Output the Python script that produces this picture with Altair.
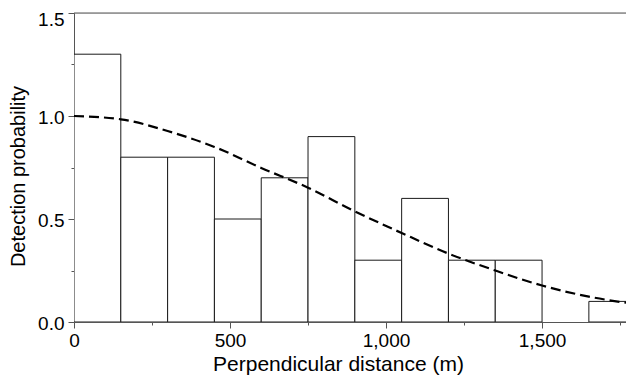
import altair as alt
import pandas as pd

# Histogram bins (perpendicular distance, m) and scaled detection frequencies
bin_start = [0, 150, 300, 450, 600, 750, 900, 1050, 1200, 1350, 1500, 1650]
bin_end = [150, 300, 450, 600, 750, 900, 1050, 1200, 1350, 1500, 1650, 1800]
bar_value = [1.3, 0.8, 0.8, 0.5, 0.7, 0.9, 0.3, 0.6, 0.3, 0.3, 0.0, 0.1]

# Fitted detection function
curve_x = [0, 150, 300, 450, 600, 750, 900, 1050, 1200, 1350, 1500, 1650, 1800]
curve_y = [1.0, 0.984, 0.927, 0.85, 0.748, 0.652, 0.537, 0.432, 0.332, 0.25, 0.177, 0.123, 0.087]

x_ticks = [0, 250, 500, 750, 1000, 1250, 1500, 1750]
y_ticks = [0.0, 0.25, 0.5, 0.75, 1.0, 1.25, 1.5]

bars_df = pd.DataFrame({"start": bin_start, "end": bin_end, "value": bar_value})
curve_df = pd.DataFrame({"x": curve_x, "y": curve_y})

FONT = "Arial"
AXIS_COLOR = "#555555"

# visible part of the distance axis (the reference is cut at its right edge)
x_scale = alt.Scale(domain=[0, 1769], nice=False, zero=False)
y_scale = alt.Scale(domain=[0, 1.5], nice=False)

Y_MAJOR = "abs(datum.value * 2 - round(datum.value * 2)) < 0.001"

x_axis = alt.Axis(
    title="Perpendicular distance (m)",
    values=x_ticks,
    labelExpr="datum.value % 500 === 0 ? format(datum.value, ',') : ''",
    tickSize={"condition": {"test": "datum.value % 500 === 0", "value": 6}, "value": 3},
    grid=False,
    domainColor=AXIS_COLOR,
    tickColor=AXIS_COLOR,
    labelFont=FONT,
    labelFontSize=19,
    labelColor="#000000",
    labelPadding=3,
    titleFont=FONT,
    titleFontSize=21,
    titleFontWeight="normal",
    titleColor="#000000",
    titlePadding=3,
    titleX=264,
    labelFlush=False,
)
y_axis = alt.Axis(
    title="Detection probability",
    values=y_ticks,
    labelExpr=Y_MAJOR + " ? format(datum.value, '.1f') : ''",
    tickSize={"condition": {"test": Y_MAJOR, "value": 6}, "value": 3},
    labelOffset={"condition": {"test": "datum.value > 1.4", "value": 6}, "value": 1},
    grid=False,
    domainColor=AXIS_COLOR,
    tickColor=AXIS_COLOR,
    labelFont=FONT,
    labelFontSize=19,
    labelColor="#000000",
    labelPadding=4,
    titleFont=FONT,
    titleFontSize=20,
    titleFontWeight="normal",
    titleColor="#000000",
    titlePadding=9,
    titleY=163,
    labelFlush=False,
)

bars = (
    alt.Chart(bars_df)
    .transform_filter("datum.value > 0")
    .mark_rect(fill="white", stroke="#1a1a1a", strokeWidth=1, clip=True)
    .encode(
        x=alt.X("start:Q", scale=x_scale, axis=x_axis),
        x2="end:Q",
        y=alt.Y("value:Q", scale=y_scale, axis=y_axis),
        y2=alt.datum(0),
    )
)

curve = (
    alt.Chart(curve_df)
    .mark_line(color="black", strokeWidth=2.2, strokeDash=[10, 5], interpolate="monotone", clip=True)
    .encode(x=alt.X("x:Q", scale=x_scale), y=alt.Y("y:Q", scale=y_scale))
)

top_line = (
    alt.Chart(pd.DataFrame({"t": [1.5]}))
    .mark_rule(color=AXIS_COLOR, strokeWidth=1)
    .encode(y=alt.Y("t:Q", scale=y_scale))
)

chart = (
    alt.layer(bars, curve, top_line)
    .properties(
        width=552,
        height=309,
        autosize=alt.AutoSizeParams(type="none"),
        padding={"left": 66, "top": 5, "right": 0, "bottom": 53},
    )
    .configure_view(stroke=None)
    .configure(background="white")
)

chart.save("out.html", embed_options={"renderer": "svg", "actions": False})
